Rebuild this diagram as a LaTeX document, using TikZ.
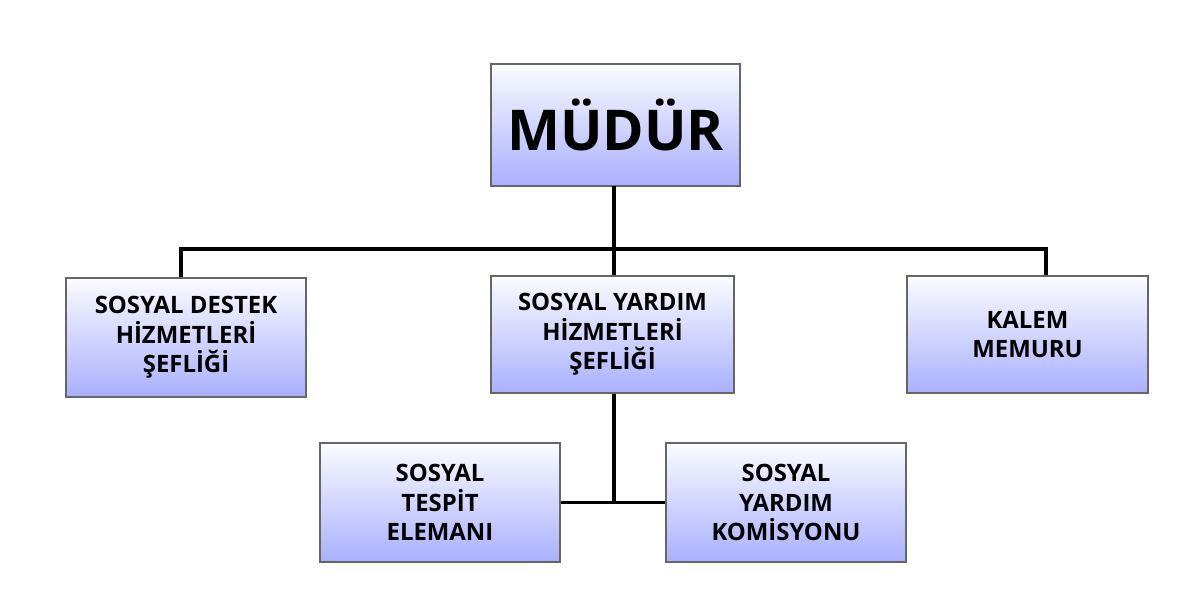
\documentclass[tikz,border=0pt]{standalone}
\usepackage{fontspec}
\setmainfont{Open Sans}
\begin{document}
\begin{tikzpicture}[x=0.025cm,y=-0.025cm,
  box/.style={draw=gray!80!black,line width=0.8pt,top color=white!85!blue!10,bottom color=blue!30!cyan!5!white!70!blue,
    align=center,font=\fontsize{17}{21}\selectfont\bfseries,inner sep=0pt},
  conn/.style={line width=2.8pt,black}]
\useasboundingbox (0,0) rectangle (1200,610);
\tikzset{bb/.style args={#1/#2/#3/#4}{box,minimum width={(#3-#1)*0.025cm},minimum height={(#4-#2)*0.025cm}}}
\node[bb=491/64/740/186,font=\fontsize{40}{44}\selectfont\bfseries] (m) at (615.5,125) {MÜDÜR};
\node[bb=66/278/306/397] (l) at (186,337.5) {SOSYAL DESTEK\\HİZMETLERİ\\ŞEFLİĞİ};
\node[bb=491/276/734/393] (c) at (612.5,334.5) {SOSYAL YARDIM\\HİZMETLERİ\\ŞEFLİĞİ};
\node[bb=907/276/1148/393] (r) at (1027.5,334.5) {KALEM\\MEMURU};
\node[bb=320/443/560/562] (bl) at (440,502.5) {SOSYAL\\TESPİT\\ELEMANI};
\node[bb=666/443/906/562] (br) at (786,502.5) {SOSYAL\\YARDIM\\KOMİSYONU};
\coordinate (j1) at (614,249);
\coordinate (j2) at (614,501);
\draw[conn] (614,186) -- (j1);
\draw[conn] (l.north -| 181,0) |- (j1) -| (r.north -| 1046,0);
\draw[conn] (j1) -- (c.north -| 614,0);
\draw[conn] (c.south -| 614,0) -- (j2);
\draw[conn] (bl.east) -- (br.west);
\end{tikzpicture}
\end{document}
